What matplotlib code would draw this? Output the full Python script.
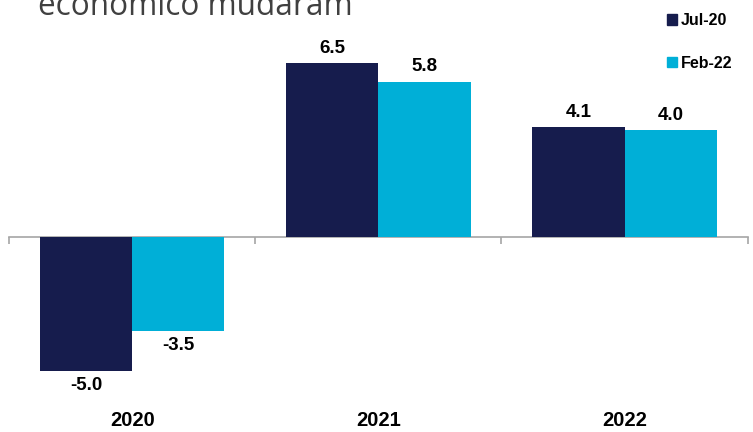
import numpy as np
import matplotlib.pyplot as plt
from matplotlib.patches import Patch

# Projeções de crescimento (%) por ano
anos = ["2020", "2021", "2022"]
jul20 = [-5.0, 6.5, 4.1]
feb22 = [-3.5, 5.8, 4.0]
series = ["Jul-20", "Feb-22"]

cor_jul = "#161C4D"
cor_feb = "#00AFD7"
cinza = "#A6A6A6"

fig = plt.figure(figsize=(7.53, 4.32), dpi=100)
ax = fig.add_axes([0.012, 0.054, 0.981, 0.881])

x = np.arange(len(anos))
w = 0.375
b1 = ax.bar(x - w / 2, jul20, w, color=cor_jul)
b2 = ax.bar(x + w / 2, feb22, w, color=cor_feb)

ax.set_xlim(-0.5, len(anos) - 0.5)
ax.set_ylim(-6.4, 7.8)

for b in (b1, b2):
    ax.bar_label(b, fmt="%.1f", padding=4.5, fontsize=13.5, fontweight="bold",
                 family="Liberation Sans", color="black")

# rótulos dos anos na base do gráfico
for s in ["top", "right", "left", "bottom"]:
    ax.spines[s].set_visible(False)
ax.set_yticks([])
ax.set_xticks(x)
ax.set_xticklabels(anos, fontsize=14.5, fontweight="bold", family="Liberation Sans")
ax.tick_params(axis="x", length=0, pad=2)

# eixo no zero com marcas entre as categorias
ymin, ymax = ax.get_ylim()
eixo = ax.secondary_xaxis((0 - ymin) / (ymax - ymin))
eixo.set_xticks(np.arange(-0.5, len(anos), 1.0))
eixo.set_xticklabels([])
eixo.tick_params(axis="x", direction="out", length=5, width=1.2, color=cinza)
eixo.spines["bottom"].set_color(cinza)
eixo.spines["bottom"].set_linewidth(1.2)

handles = [Patch(color=cor_jul), Patch(color=cor_feb)]
leg = fig.legend(handles, series, loc="upper left", bbox_to_anchor=(0.867, 1.003),
                 frameon=False, handlelength=0.6, handleheight=0.6,
                 handletextpad=0.25, labelspacing=1.75,
                 prop={"family": "Liberation Sans", "weight": "bold", "size": 11.5})

fig.text(0.05, 0.965, "econômico mudaram", fontsize=22.7, color="#404040",
         family="Open Sans", va="baseline", ha="left")

fig.savefig("out.png", dpi=100)
